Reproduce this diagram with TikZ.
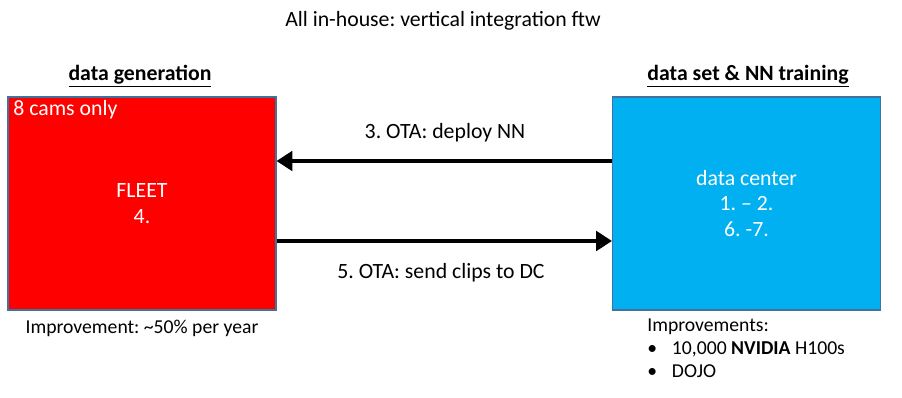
\documentclass[tikz,border=0pt]{standalone}
\usepackage{fontspec}
\setmainfont{Carlito}
\usetikzlibrary{arrows.meta,positioning}
\definecolor{fleetred}{RGB}{255,0,0}
\definecolor{dcblue}{RGB}{0,176,240}
\definecolor{edgeblue}{RGB}{65,113,156}
\frenchspacing

\begin{document}
\begin{tikzpicture}[x=0.02cm,y=-0.02cm,
    font=\fontsize{12.4}{14.5}\selectfont,
    box/.style={draw=edgeblue, line width=0.6pt, minimum width=5.36cm, minimum height=4.26cm, inner sep=0pt, text=white, align=center},
    ota/.style={line width=2.6pt, -{Triangle[length=9pt,width=11pt]}},
    heading/.style={font=\fontsize{12.4}{14.5}\selectfont\bfseries},
    small/.style={font=\fontsize{11.2}{13}\selectfont}]
        \useasboundingbox (0,0) rectangle (902,398);
        \node (title) at (443,21) {All in-house: vertical integration ftw};
        \node[heading] (gen) at (140,76) {\underline{data generation}};
        \node[heading] (train) at (748,76) {\underline{data set \& NN training}};
        \node[box, fill=fleetred] (fleet) at (142,203.5) {FLEET\\4.};
        \node[box, fill=dcblue] (dc) at (746.5,203.5) {data center\\1. -- 2.\\6. -7.};
        \node[text=white, anchor=north west, inner sep=0pt] (cams) at (13,100) {8 cams only};
        \draw[ota] ([yshift=0.85cm]dc.west) -- ([yshift=0.85cm]fleet.east);
        \draw[ota] ([yshift=-0.75cm]fleet.east) -- ([yshift=-0.75cm]dc.west);
        \node (deploy) at (445,133) {3. OTA: deploy NN};
        \node (send) at (441,273) {5. OTA: send clips to DC};
        \node[small] (impfleet) at (142,328) {Improvement: \textasciitilde50\% per year};
        \node[small, anchor=north west, align=left, inner sep=0pt] (impdc) at (647,319)
            {Improvements:\\
             \makebox[14pt][l]{\textbullet}\hspace{0pt}10,000 \textbf{NVIDIA} H100s\\
             \makebox[14pt][l]{\textbullet}\hspace{0pt}DOJO};
\end{tikzpicture}
\end{document}
